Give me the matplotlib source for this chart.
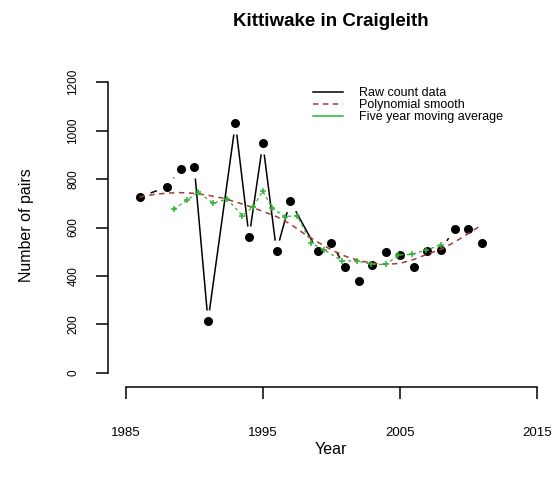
import matplotlib
matplotlib.use("Agg")
import matplotlib.pyplot as plt
from matplotlib.lines import Line2D

plt.rcParams['font.family'] = ['Liberation Sans', 'DejaVu Sans']

# Raw counts (years with data)
years = [1986, 1988, 1989, 1990, 1991, 1993, 1994, 1995, 1996, 1997, 1999,
         2000, 2001, 2002, 2003, 2004, 2005, 2006, 2007, 2008, 2009, 2010, 2011]
pairs = [726, 767, 841, 850, 214, 1031, 561, 948, 503, 709, 503,
         536, 437, 379, 445, 499, 487, 437, 503, 507, 594, 594, 536]

# Polynomial smooth
smooth_years = list(range(1986, 2012))
smooth_vals = [726, 736, 742, 744, 741, 733, 722, 706, 688, 667, 645, 615, 575,
               540, 508, 482, 464, 453, 448, 452, 468, 490, 510, 540, 575, 612]

# Five year moving average (positions as drawn)
ma_x = [1988.5, 1989.5, 1990.3, 1991.4, 1992.4, 1993.5, 1994.3, 1995.0, 1995.7,
        1996.6, 1997.5, 1998.55, 1999.5, 2000.8, 2001.9, 2002.9, 2004.0, 2004.9,
        2005.9, 2006.9, 2008.0]
ma_vals = [675, 715, 745, 700, 718, 649, 686, 751, 679, 645, 649, 535, 507,
           462, 462, 448, 448, 487, 489, 507, 528]

x_ticks = [1985, 1995, 2005, 2015]
y_ticks = [0, 200, 400, 600, 800, 1000, 1200]

W, H = 553, 491
fig = plt.figure(figsize=(W / 100, H / 100), dpi=100)
ax = fig.add_axes([108 / W, (H - 387) / H, (W - 108) / W, (387 - 70) / H])
ax.set_xlim(1983.7, 2016.18)
ax.set_ylim(-58, 1250)

# raw line with gaps around points (R type="b")
ax.plot(years, pairs, color='black', lw=1.1, zorder=2)
ax.plot(years, pairs, 'o', ms=16, color='white', mec='none', zorder=3)
ax.plot(years, pairs, 'o', ms=6.5, color='black', mec='none', zorder=4)

ax.plot(smooth_years, smooth_vals, color='#a33a3a', lw=1.1, dashes=(3.5, 3), zorder=5)
ax.plot(ma_x, ma_vals, color='#33b033', lw=0.9, marker='+', ms=5, mew=1.1,
        dashes=(2.5, 2.5), zorder=6)

for s in ['top', 'right']:
    ax.spines[s].set_visible(False)
ax.spines['left'].set_bounds(0, 1200)
ax.spines['bottom'].set_bounds(1985, 2015)
for s in ['left', 'bottom']:
    ax.spines[s].set_linewidth(1.1)

ax.set_xticks(x_ticks)
ax.set_xticklabels([str(v) for v in x_ticks], fontsize=9.5)
ax.set_yticks(y_ticks)
ax.set_yticklabels([str(v) for v in y_ticks], fontsize=8.5, rotation=90, va='center')
ax.tick_params(axis='both', length=8.5, width=1.1, color='black')
ax.tick_params(axis='x', pad=20)
ax.tick_params(axis='y', pad=12)

fig.text(331 / W, 1 - 21 / H, 'Kittiwake in Craigleith', fontsize=13.5,
         fontweight='bold', ha='center', va='center')
fig.text(331 / W, 1 - 449 / H, 'Year', fontsize=11.5, ha='center', va='center')
fig.text(27 / W, 1 - 225 / H, 'Number of pairs', fontsize=11.5, rotation=90,
         ha='center', va='center')

handles = [Line2D([], [], color='black', lw=1.1),
           Line2D([], [], color='#a33a3a', lw=1.1, dashes=(3.5, 3)),
           Line2D([], [], color='#33b033', lw=1.1)]
ax.legend(handles, ['Raw count data', 'Polynomial smooth', 'Five year moving average'],
          loc='upper left', bbox_to_anchor=(313 / W, 1 - 87 / H),
          bbox_transform=fig.transFigure, frameon=False, fontsize=9,
          handlelength=2.4, handletextpad=1.3, labelspacing=0.0,
          borderpad=0, borderaxespad=0)

fig.savefig('out.png', dpi=100)
